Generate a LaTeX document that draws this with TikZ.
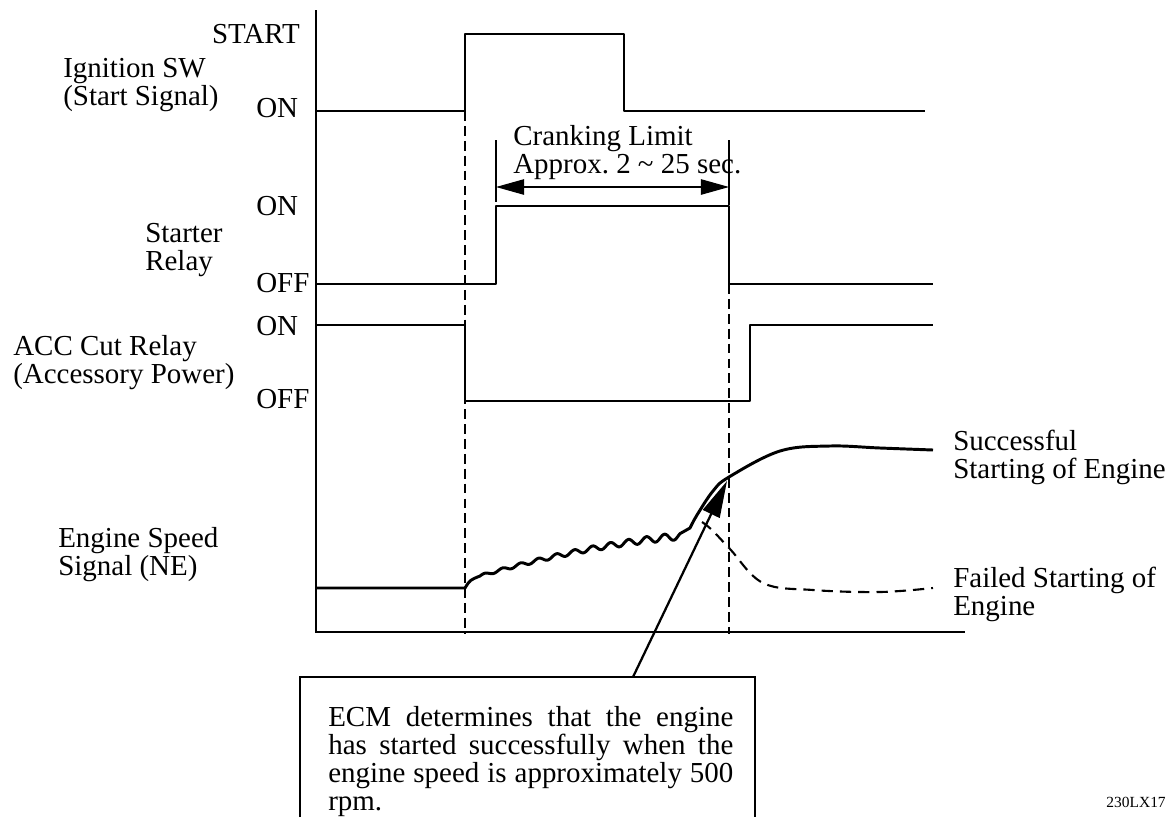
\documentclass[tikz,border=0pt]{standalone}
\usepackage{fontspec}
\setmainfont{Liberation Serif}
\usetikzlibrary{arrows.meta, positioning}
\frenchspacing

\begin{document}
\begin{tikzpicture}[
        x=0.025cm, y=-0.025cm,
        lbl/.style={font=\fontsize{20.6}{20}\selectfont, inner sep=0pt, align=left},
        sig/.style={line width=2.1pt, line join=round},
        axis/.style={line width=1.9pt},
        guide/.style={line width=1.6pt, dash pattern=on 7pt off 3.6pt},
        dim/.style={line width=0.8pt},
        >={Triangle[length=20pt, width=11pt]}
    ]
        \useasboundingbox (0,0) rectangle (1171,817);

        % axes
        \coordinate (top) at (316,10);
        \coordinate (origin) at (316,632);
        \coordinate (tend) at (965,632);
        \draw[axis] (top) -- (origin) -- (tend);

        % signal names
        \node[lbl, anchor=north west] (ign) at (63,58) {Ignition SW\\(Start Signal)};
        \node[lbl, anchor=north west] (starter) at (145,223) {Starter\\Relay};
        \node[lbl, anchor=north west] (acc) at (13,335) {ACC Cut Relay\\(Accessory Power)};
        \node[lbl, anchor=north west] (ne) at (58,527) {Engine Speed\\Signal (NE)};

        % levels
        \node[lbl, anchor=base east] (ignstart) at (300,43) {START};
        \node[lbl, anchor=base west] (ignon) at (256,117) {ON};
        \node[lbl, anchor=base west] (staon) at (256,215) {ON};
        \node[lbl, anchor=base west] (staoff) at (256,292) {OFF};
        \node[lbl, anchor=base west] (accon) at (256,335) {ON};
        \node[lbl, anchor=base west] (accoff) at (256,408) {OFF};

        % traces
        \draw[sig] (316,111) -- (465,111) -- (465,34) -- (624,34) -- (624,111) -- (925,111);
        \draw[sig] (316,284) -- (496,284) -- (496,206) -- (729,206) -- (729,284) -- (933,284);
        \draw[sig] (316,325) -- (465,325) -- (465,401) -- (750,401) -- (750,325) -- (933,325);
        \draw[sig] (316,588) -- (465,588) .. controls (470,580) .. (480,576)
            -- plot[domain=480:680, samples=160]
               ({\x}, {576 - 0.3*(\x-480) + 5*((\x-480)/100)^2 - (1.3 + 0.012*(\x-480))*sin((\x-480)*20)})
            -- plot[smooth, tension=0.6] coordinates {(690,528) (697,515) (713,491) (729,477) (780,451) (830,446) (880,448) (933,450)};
        \draw[line width=1.5pt, dash pattern=on 8pt off 5pt]
            plot[smooth, tension=0.6] coordinates {(702,522) (712,530) (730,549) (763,583) (813,590) (880,592) (933,588)};

        \draw[guide] (465,111) -- (465,634);
        \draw[guide] (729,284) -- (729,634);

        % cranking limit
        \coordinate (crkl) at (496,187);
        \coordinate (crkr) at (729,187);
        \draw[dim] (496,140) -- (496,202);
        \draw[dim] (729,140) -- (729,205);
        \draw[dim, <->] (crkl) -- (crkr);
        \node[lbl, anchor=north west] (crank) at (513,125) {Cranking Limit\\Approx. 2 \textasciitilde{} 25 sec.};

        \node[lbl, anchor=north west] (okstart) at (953,430) {Successful\\Starting of Engine};
        \node[lbl, anchor=north west] (ngstart) at (953,567) {Failed Starting of\\Engine};

        % note
        \node[lbl, anchor=north west, text width=10.125cm, align=justify] (note) at (328,706)
            {ECM determines that the engine\linebreak has started successfully when the\linebreak engine speed is approximately 500\linebreak rpm.};
        \draw[axis] (300,817) |- (755,677) -- (755,817);
        \coordinate (notetop) at (633,677);
        \coordinate (rpm500) at (727,481);
        \draw[line width=1.6pt, -{Triangle[length=26pt, width=13pt]}] (notetop) -- (rpm500);

        \node[font=\fontsize{11}{13}\selectfont, inner sep=0pt, anchor=base east] (figid) at (1166,807) {230LX17};
    \end{tikzpicture}
\end{document}
